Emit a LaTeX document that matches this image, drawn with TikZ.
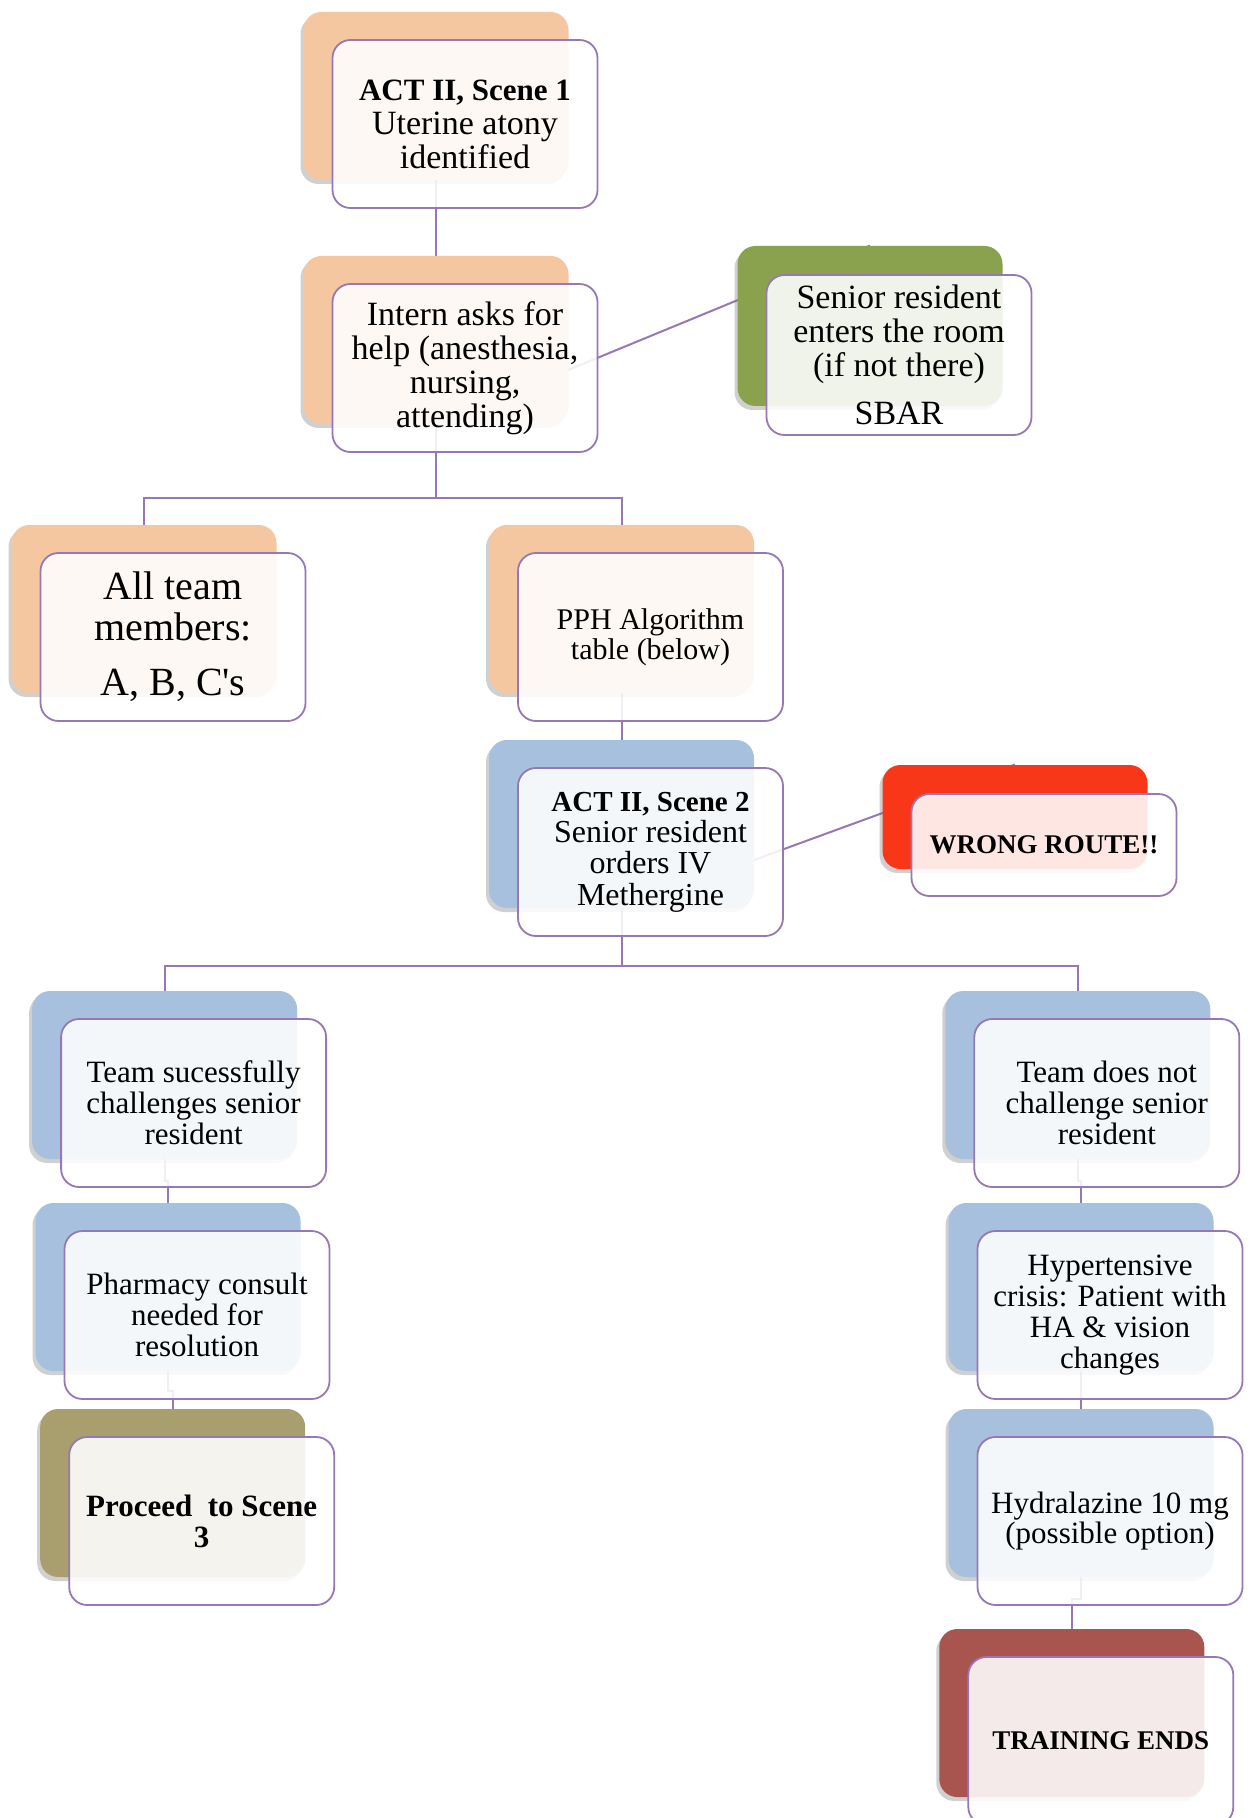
\documentclass[tikz,border=0pt]{standalone}
\usepackage{fontspec}
\setmainfont{Liberation Serif}[Ligatures=TeXOff]
\usetikzlibrary{shadows,calc}
\definecolor{peach}{RGB}{245,199,161}
\definecolor{olivegreen}{RGB}{138,162,78}
\definecolor{skyblue}{RGB}{167,192,221}
\definecolor{redback}{RGB}{248,55,25}
\definecolor{khaki}{RGB}{168,158,110}
\definecolor{brickred}{RGB}{168,84,79}
\definecolor{framecol}{RGB}{150,120,180}
\pgfdeclarelayer{bg}
\pgfsetlayers{bg,main}
\begin{document}
\begin{tikzpicture}[x=0.5pt,y=-0.5pt,
  backbox/.style={rectangle, rounded corners=9pt, minimum width=132.5pt, minimum height=84pt, inner sep=0pt,
    drop shadow={shadow xshift=-1.5pt, shadow yshift=-2pt, opacity=0.3, fill=black!60}},
  frontbox/.style={rectangle, rounded corners=9pt, minimum width=132.5pt, minimum height=84pt, inner sep=2pt,
    draw=framecol, line width=0.9pt, fill=white, fill opacity=0.88, draw opacity=1, text opacity=1, align=center},
  link/.style={draw=framecol, line width=1pt},
  ftop/.style={font=\fontsize{17}{17}\selectfont},
  fbig/.style={font=\fontsize{20}{20.3}\selectfont},
  fmid/.style={font=\fontsize{15}{15}\selectfont},
  fsix/.style={font=\fontsize{16}{15.7}\selectfont},
  fbot/.style={font=\fontsize{15.5}{15.4}\selectfont},
  fbold/.style={font=\fontsize{13.5}{14}\selectfont\bfseries},
]
\useasboundingbox (0,0) rectangle (1251,1818);
\clip (0,0) rectangle (1251,1818);

% back boxes
\node[backbox, fill=peach] (b1) at (436,96) {};
\node[backbox, fill=peach] (b2) at (436,340) {};
\node[backbox, fill=olivegreen, minimum height=80pt] (b3) at (870,326) {};
\node[backbox, fill=peach] (b4) at (144,609) {};
\node[backbox, fill=peach] (b5) at (621.5,609) {};
\node[backbox, fill=skyblue] (b6) at (621.5,824) {};
\node[backbox, fill=redback, minimum height=52pt] (b7) at (1015,817) {};
\node[backbox, fill=skyblue] (b8) at (164.6,1075) {};
\node[backbox, fill=skyblue] (b9) at (168,1287) {};
\node[backbox, fill=khaki] (b10) at (172.7,1493) {};
\node[backbox, fill=skyblue] (b11) at (1077.8,1075) {};
\node[backbox, fill=skyblue] (b12) at (1081,1287) {};
\node[backbox, fill=skyblue] (b13) at (1081,1493) {};
\node[backbox, fill=brickred] (b14) at (1071.8,1713) {};

% front boxes
\node[frontbox, ftop] (f1) at (465,124) {{\fontsize{15.5}{17}\selectfont\bfseries ACT II, Scene 1}\\Uterine atony\\identified};
\node[frontbox, ftop] (f2) at (465,368) {Intern asks for\\help (anesthesia,\\nursing,\\attending)};
\node[frontbox, ftop, minimum height=80pt] (f3) at (899,355) {Senior resident\\enters the room\\(if not there)\\[7pt]SBAR};
\node[frontbox, fbig] (f4) at (173,637) {All team\\members:\\[7.5pt]A, B, C's};
\node[frontbox, fmid] (f5) at (650.5,637) {PPH Algorithm\\table (below)};
\node[frontbox, fsix] (f6) at (650.5,852) {{\fontsize{14.5}{15.7}\selectfont\bfseries ACT II, Scene 2}\\Senior resident\\orders IV\\Methergine};
\node[frontbox, fbold, minimum height=51pt] (f7) at (1044,845) {WRONG ROUTE!!};
\node[frontbox, fbot] (f8) at (193.6,1103) {Team sucessfully\\challenges senior\\resident};
\node[frontbox, fbot] (f9) at (197,1315) {Pharmacy consult\\needed for\\resolution};
\node[frontbox, fbot] (f10) at (201.7,1521) {\bfseries Proceed\ \ to Scene\\\bfseries 3};
\node[frontbox, fbot] (f11) at (1106.8,1103) {Team does not\\challenge senior\\resident};
\node[frontbox, fbot] (f12) at (1110,1315) {Hypertensive\\crisis: Patient with\\HA \& vision\\changes};
\node[frontbox, fbot] (f13) at (1110,1521) {Hydralazine 10 mg\\(possible option)};
\node[frontbox, fbold] (f14) at (1100.8,1741) {TRAINING ENDS};

% connectors
\begin{pgfonlayer}{bg}
\fill[white] (0,0) rectangle (1251,1818);
\coordinate (j1) at (436,498);
\coordinate (j2) at (621.5,966);
\draw[link] (b1.south) -- (b2.north);
\draw[link] (b2.south) -- (b3.north);
\draw[link] (b2.south) -- (j1) -| (b4.north);
\draw[link] (j1) -| (b5.north);
\draw[link] (b5.south) -- (b6.north);
\draw[link] (b6.south) -- (b7.north);
\draw[link] (b6.south) -- (j2) -| (b8.north);
\draw[link] (j2) -| (b11.north);
\draw[link] (b8.south) -- ++(0,22) -| (b9.north);
\draw[link] (b9.south) -- ++(0,20) -| (b10.north);
\draw[link] (b11.south) -- ++(0,22) -| (b12.north);
\draw[link] (b12.south) -- (b13.north);
\draw[link] (b13.south) -- ++(0,22) -| (b14.north);
\end{pgfonlayer}
\end{tikzpicture}
\end{document}
